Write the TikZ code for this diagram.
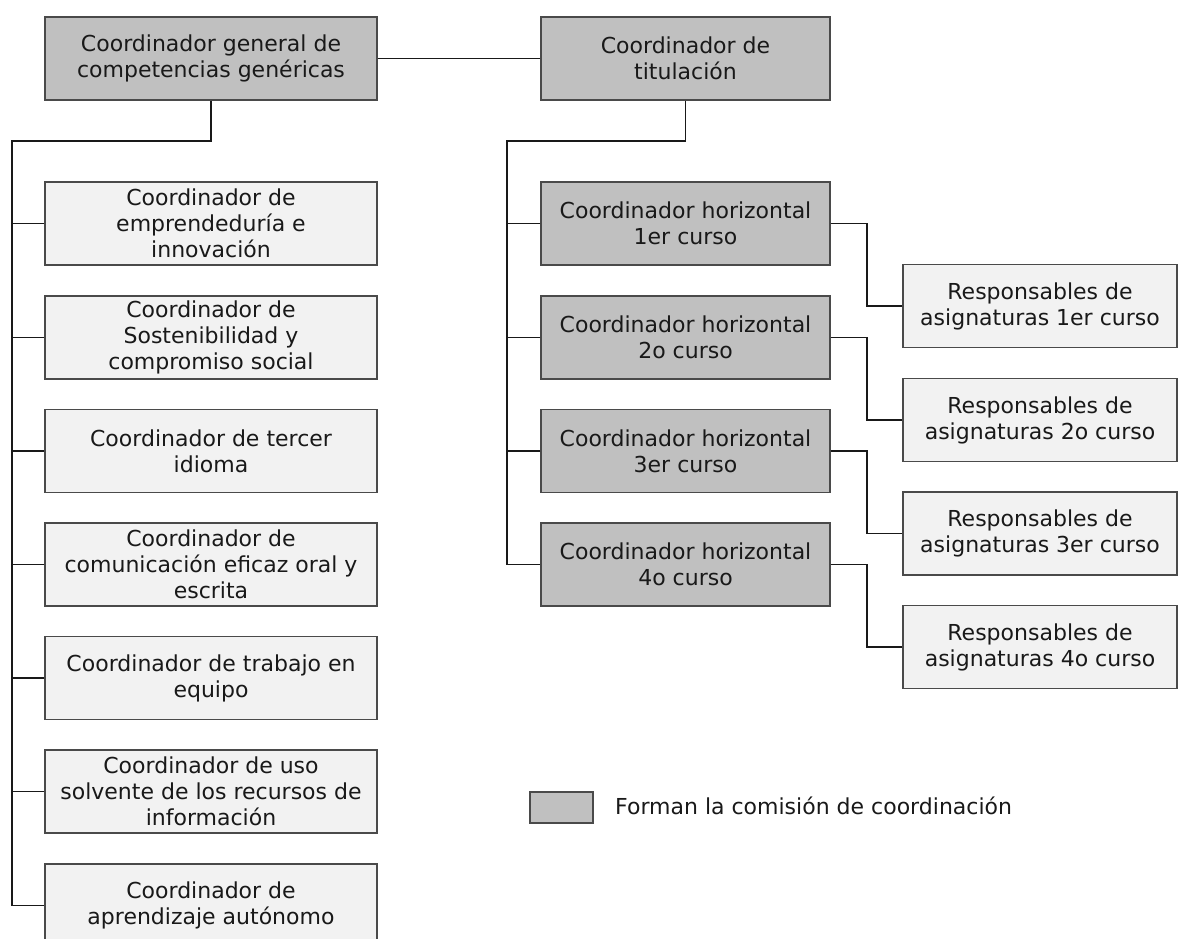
\documentclass[tikz,border=0pt]{standalone}
\usepackage{fontspec}
\setmainfont{DejaVu Sans}
\definecolor{darkfill}{HTML}{C0C0C0}
\definecolor{lightfill}{HTML}{F2F2F2}
\definecolor{edge}{HTML}{4A4A4A}
\begin{document}
\begin{tikzpicture}[x=1pt,y=-1pt,
  box/.style={draw=edge,line width=1.4pt,inner sep=0pt,align=center,
    font=\fontsize{22}{26}\selectfont,text=black!90},
  dbox/.style={box,fill=darkfill},
  lbox/.style={box,fill=lightfill},
  wl/.style={minimum width=332pt,minimum height=83pt},
  wm/.style={minimum width=289pt,minimum height=83pt},
  wr/.style={minimum width=274pt,minimum height=83pt},
  conn/.style={draw=black!90,line width=1.8pt}]
\useasboundingbox (0,0) rectangle (1179,939);
\begin{scope}
\clip (0,0) rectangle (1179,939);
% top row
\node[dbox,wl] (gen) at (211,58.5) {Coordinador general de\\competencias genéricas};
\node[dbox,wm] (tit) at (685.5,58.5) {Coordinador de\\titulación};
% left column
\node[lbox,wl] (c1) at (211,223.5) {Coordinador de\\emprendeduría e\\innovación};
\node[lbox,wl] (c2) at (211,337.5) {Coordinador de\\Sostenibilidad y\\compromiso social};
\node[lbox,wl] (c3) at (211,451) {Coordinador de tercer\\idioma};
\node[lbox,wl] (c4) at (211,564.5) {Coordinador de\\comunicación eficaz oral y\\escrita};
\node[lbox,wl] (c5) at (211,678) {Coordinador de trabajo en\\equipo};
\node[lbox,wl] (c6) at (211,791.5) {Coordinador de uso\\solvente de los recursos de\\información};
\node[lbox,wl] (c7) at (211,905.5) {Coordinador de\\aprendizaje autónomo};
% middle column
\node[dbox,wm] (h1) at (685.5,223.5) {Coordinador horizontal\\1er curso};
\node[dbox,wm] (h2) at (685.5,337.5) {Coordinador horizontal\\2o curso};
\node[dbox,wm] (h3) at (685.5,451) {Coordinador horizontal\\3er curso};
\node[dbox,wm] (h4) at (685.5,564.5) {Coordinador horizontal\\4o curso};
% right column
\node[lbox,wr] (r1) at (1040,306) {Responsables de\\asignaturas 1er curso};
\node[lbox,wr] (r2) at (1040,420) {Responsables de\\asignaturas 2o curso};
\node[lbox,wr] (r3) at (1040,533.5) {Responsables de\\asignaturas 3er curso};
\node[lbox,wr] (r4) at (1040,647) {Responsables de\\asignaturas 4o curso};
% legend
\node[draw=edge,line width=1.4pt,fill=darkfill,minimum width=63pt,minimum height=31pt,inner sep=0pt] (leg) at (561.5,807.5) {};
\node[anchor=west,inner sep=0pt,font=\fontsize{22}{26}\selectfont,text=black!90] (legt) at (615,806) {Forman la comisión de coordinación};
% coordinates
\coordinate (lt) at (12,141);
\coordinate (mt) at (507,141);
% connectors
\draw[conn] (gen.east) -- (tit.west);
\draw[conn] (gen.south) |- (lt) |- (c7.west);
\foreach \n in {c1,c2,c3,c4,c5,c6} \draw[conn] (\n.west) -- (\n.west -| lt);
\draw[conn] (tit.south) |- (mt) |- (h4.west);
\foreach \n in {h1,h2,h3} \draw[conn] (\n.west) -- (\n.west -| mt);
\foreach \a/\b in {h1/r1,h2/r2,h3/r3,h4/r4}
  \draw[conn] (\a.east) -- ++(36,0) |- (\b.west);
\end{scope}
\end{tikzpicture}
\end{document}
